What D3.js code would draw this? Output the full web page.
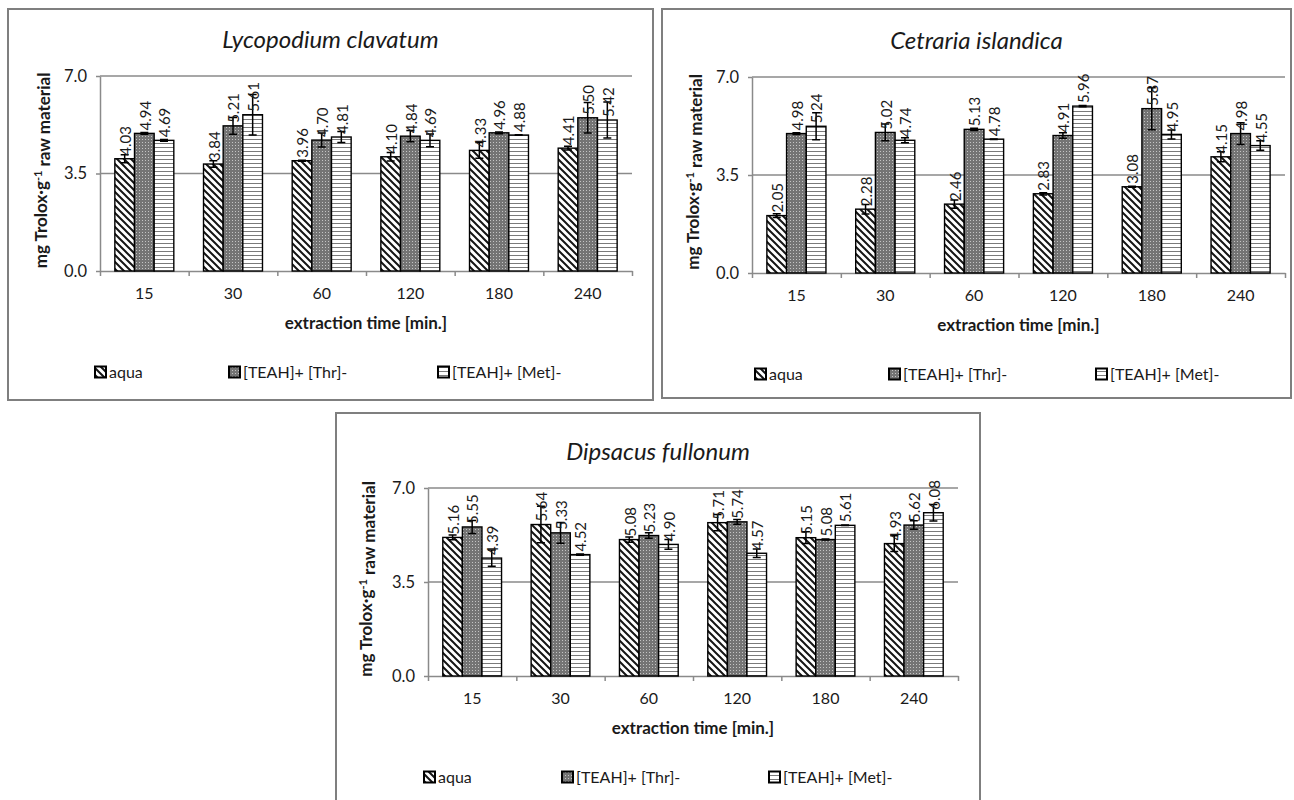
<!DOCTYPE html>
<html>
<head>
<meta charset="utf-8">
<script src="https://cdn.jsdelivr.net/npm/d3@7"></script>
<style>
  body { margin: 0; background: #fff; }
  svg { display: block; }
  text { font-family: Lato, "Open Sans", sans-serif; fill: #1a1a1a; }
</style>
</head>
<body>
<div id="chart"></div>
<script>
// categories and legend
const times = ["15", "30", "60", "120", "180", "240"];
const seriesNames = ["aqua", "[TEAH]+ [Thr]-", "[TEAH]+ [Met]-"];
const yTicks = [0, 3.5, 7.0];

// Lycopodium clavatum
const lycoAqua = [4.03, 3.84, 3.96, 4.10, 4.33, 4.41];
const lycoThr = [4.94, 5.21, 4.70, 4.84, 4.96, 5.50];
const lycoMet = [4.69, 5.61, 4.81, 4.69, 4.88, 5.42];
const lycoAquaErr = [0.14, 0.12, 0.02, 0.15, 0.28, 0.07];
const lycoThrErr = [0.03, 0.30, 0.25, 0.20, 0.03, 0.55];
const lycoMetErr = [0.03, 0.73, 0.20, 0.23, 0.01, 0.65];

// Cetraria islandica
const cetrAqua = [2.05, 2.28, 2.46, 2.83, 3.08, 4.15];
const cetrThr = [4.98, 5.02, 5.13, 4.91, 5.87, 4.98];
const cetrMet = [5.24, 4.74, 4.78, 5.96, 4.95, 4.55];
const cetrAquaErr = [0.07, 0.17, 0.15, 0.04, 0.02, 0.18];
const cetrThrErr = [0.03, 0.30, 0.04, 0.10, 0.75, 0.39];
const cetrMetErr = [0.48, 0.09, 0.01, 0.02, 0.16, 0.17];

// Dipsacus fullonum
const dipsAqua = [5.16, 5.64, 5.08, 5.71, 5.15, 4.93];
const dipsThr = [5.55, 5.33, 5.23, 5.74, 5.08, 5.62];
const dipsMet = [4.39, 4.52, 4.90, 4.57, 5.61, 6.08];
const dipsAquaErr = [0.09, 0.68, 0.10, 0.30, 0.22, 0.29];
const dipsThrErr = [0.24, 0.39, 0.10, 0.09, 0.02, 0.16];
const dipsMetErr = [0.30, 0.02, 0.18, 0.16, 0.01, 0.31];

// panel layout (frame box, plot box, legend positions)
const panels = [
    { title: "Lycopodium clavatum", values: [lycoAqua, lycoThr, lycoMet], errors: [lycoAquaErr, lycoThrErr, lycoMetErr],
      frame: [8, 9, 653, 400], plot: [100, 632, 76, 271], yTitleX: 41, legendX: [95, 229, 438] },
    { title: "Cetraria islandica", values: [cetrAqua, cetrThr, cetrMet], errors: [cetrAquaErr, cetrThrErr, cetrMetErr],
      frame: [662, 9, 1291, 398], plot: [752, 1285, 77, 273], yTitleX: 693, legendX: [755, 889, 1096] },
    { title: "Dipsacus fullonum", values: [dipsAqua, dipsThr, dipsMet], errors: [dipsAquaErr, dipsThrErr, dipsMetErr],
      frame: [336, 413, 980, 806], plot: [428, 958, 488, 676], yTitleX: 366, legendX: [424, 562, 769] }
];

const svg = d3.select("#chart")
    .append("svg")
    .attr("width", 1294)
    .attr("height", 800);

// fill patterns like the Excel original
const defs = svg.append("defs");

const pAqua = defs.append("pattern").attr("id", "pat-0")
    .attr("patternUnits", "userSpaceOnUse").attr("width", 7).attr("height", 7);
pAqua.append("rect").attr("width", 7).attr("height", 7).attr("fill", "#fff");
pAqua.append("path").attr("d", "M-1,-1 L8,8 M-1,6 L1,8 M6,-1 L8,1")
    .attr("stroke", "#151515").attr("stroke-width", 2);

const pThr = defs.append("pattern").attr("id", "pat-1")
    .attr("patternUnits", "userSpaceOnUse").attr("width", 3).attr("height", 3);
pThr.append("rect").attr("width", 3).attr("height", 3).attr("fill", "#747474");
pThr.append("rect").attr("x", 1).attr("y", 1).attr("width", 1).attr("height", 1).attr("fill", "#c4c4c4");

const pMet = defs.append("pattern").attr("id", "pat-2")
    .attr("patternUnits", "userSpaceOnUse").attr("width", 4).attr("height", 4);
pMet.append("rect").attr("width", 4).attr("height", 4).attr("fill", "#fff");
pMet.append("line").attr("x1", 0).attr("x2", 4).attr("y1", 3.5).attr("y2", 3.5)
    .attr("stroke", "#7a7a7a").attr("stroke-width", 1);

const gridColor = "#8a8a8a";
const fontFam = "Lato, 'Open Sans', sans-serif";

panels.forEach(p => {
    const g = svg.append("g");
    const [left, right, top, bottom] = p.plot;

    // frame
    g.append("rect")
        .attr("x", p.frame[0]).attr("y", p.frame[1])
        .attr("width", p.frame[2] - p.frame[0])
        .attr("height", p.frame[3] - p.frame[1])
        .attr("fill", "none")
        .attr("stroke", "#7f7f7f")
        .attr("stroke-width", 2);

    const x0 = d3.scaleBand().domain(times).range([left, right])
        .paddingInner(0.335).paddingOuter(0.1675);
    const x1 = d3.scaleBand().domain([0, 1, 2]).range([0, x0.bandwidth()]);
    const y = d3.scaleLinear().domain([0, 7]).range([bottom, top]);
    const xb = d3.scaleLinear().domain([0, times.length]).range([left, right]);

    // gridlines
    g.selectAll(".grid")
        .data(yTicks.slice(1))
        .enter()
        .append("line")
        .attr("x1", left).attr("x2", right)
        .attr("y1", d => y(d)).attr("y2", d => y(d))
        .attr("stroke", gridColor)
        .attr("stroke-width", 1.5);

    // y axis
    const yAxis = g.append("g")
        .attr("transform", `translate(${left},0)`)
        .call(d3.axisLeft(y).tickValues(yTicks).tickSize(4).tickSizeOuter(0).tickFormat(d3.format(".1f")));
    yAxis.select(".domain").attr("stroke", gridColor).attr("stroke-width", 1.5);
    yAxis.selectAll(".tick line").attr("stroke", gridColor).attr("stroke-width", 1.5);
    yAxis.selectAll(".tick text").attr("x", -13).style("font-size", "16.5px").style("font-family", fontFam).attr("fill", "#1a1a1a");

    // x axis: boundary ticks + category labels
    const xAxis = g.append("g")
        .attr("transform", `translate(0,${bottom})`)
        .call(d3.axisBottom(xb).tickValues(d3.range(times.length + 1)).tickSize(5).tickSizeOuter(0).tickFormat(""));
    xAxis.select(".domain").attr("stroke", gridColor).attr("stroke-width", 1.5);
    xAxis.selectAll(".tick line").attr("stroke", gridColor).attr("stroke-width", 1.5);

    const xLab = g.append("g")
        .attr("transform", `translate(0,${bottom})`)
        .call(d3.axisBottom(x0).tickSize(0).tickPadding(17));
    xLab.select(".domain").remove();
    xLab.selectAll(".tick text").style("font-size", "16px").style("font-family", fontFam).attr("fill", "#1a1a1a");

    // bars
    p.values.forEach((vals, i) => {
        const errs = p.errors[i];
        const sg = g.append("g");

        sg.selectAll("rect")
            .data(vals)
            .enter()
            .append("rect")
            .attr("x", (d, j) => x0(times[j]) + x1(i))
            .attr("y", d => y(d))
            .attr("width", x1.bandwidth())
            .attr("height", d => y(0) - y(d))
            .attr("fill", `url(#pat-${i})`)
            .attr("stroke", "#000")
            .attr("stroke-width", 1.4);

        const cx = j => x0(times[j]) + x1(i) + x1.bandwidth() / 2;

        // error bars
        sg.selectAll(".err")
            .data(vals)
            .enter()
            .append("path")
            .attr("d", (d, j) => {
                const c = cx(j), lo = y(d - errs[j]), hi = y(d + errs[j]);
                return `M${c},${lo}V${hi}M${c - 4},${lo}H${c + 4}M${c - 4},${hi}H${c + 4}`;
            })
            .attr("stroke", "#000")
            .attr("stroke-width", 1.5)
            .attr("fill", "none");

        // value labels
        sg.selectAll(".lbl")
            .data(vals)
            .enter()
            .append("text")
            .attr("transform", (d, j) => `translate(${cx(j) + 1},${y(d) - 3}) rotate(-90)`)
            .attr("dy", "0.35em")
            .style("font-size", "15px")
            .text(d => d.toFixed(2));
    });

    // title
    g.append("text")
        .attr("x", (p.frame[0] + p.frame[2]) / 2)
        .attr("y", top - 36)
        .attr("dy", "0.35em")
        .attr("text-anchor", "middle")
        .style("font-size", "24px")
        .style("font-style", "italic")
        .text(p.title);

    // y axis title
    const yt = g.append("text")
        .attr("transform", `translate(${p.yTitleX},${(top + bottom) / 2 - 3}) rotate(-90)`)
        .attr("dy", "0.35em")
        .attr("text-anchor", "middle")
        .style("font-size", "17px")
        .style("font-weight", "bold");
    yt.append("tspan").text("mg Trolox·g");
    yt.append("tspan").attr("dy", "-0.45em").style("font-size", "11px").text("-1");
    yt.append("tspan").attr("dy", "0.45em").text(" raw material");

    // x axis title
    g.append("text")
        .attr("x", (left + right) / 2)
        .attr("y", bottom + 52)
        .attr("dy", "0.35em")
        .attr("text-anchor", "middle")
        .style("font-size", "17px")
        .style("font-weight", "bold")
        .text("extraction time [min.]");

    // legend
    const ly = bottom + 101;
    seriesNames.forEach((name, i) => {
        g.append("rect")
            .attr("x", p.legendX[i]).attr("y", ly - 5.5)
            .attr("width", 11).attr("height", 11)
            .attr("fill", `url(#pat-${i})`)
            .attr("stroke", "#000")
            .attr("stroke-width", 2);
        g.append("text")
            .attr("x", p.legendX[i] + 14)
            .attr("y", ly)
            .attr("dy", "0.35em")
            .style("font-size", "16px")
            .text(name);
    });
});
</script>
</body>
</html>
